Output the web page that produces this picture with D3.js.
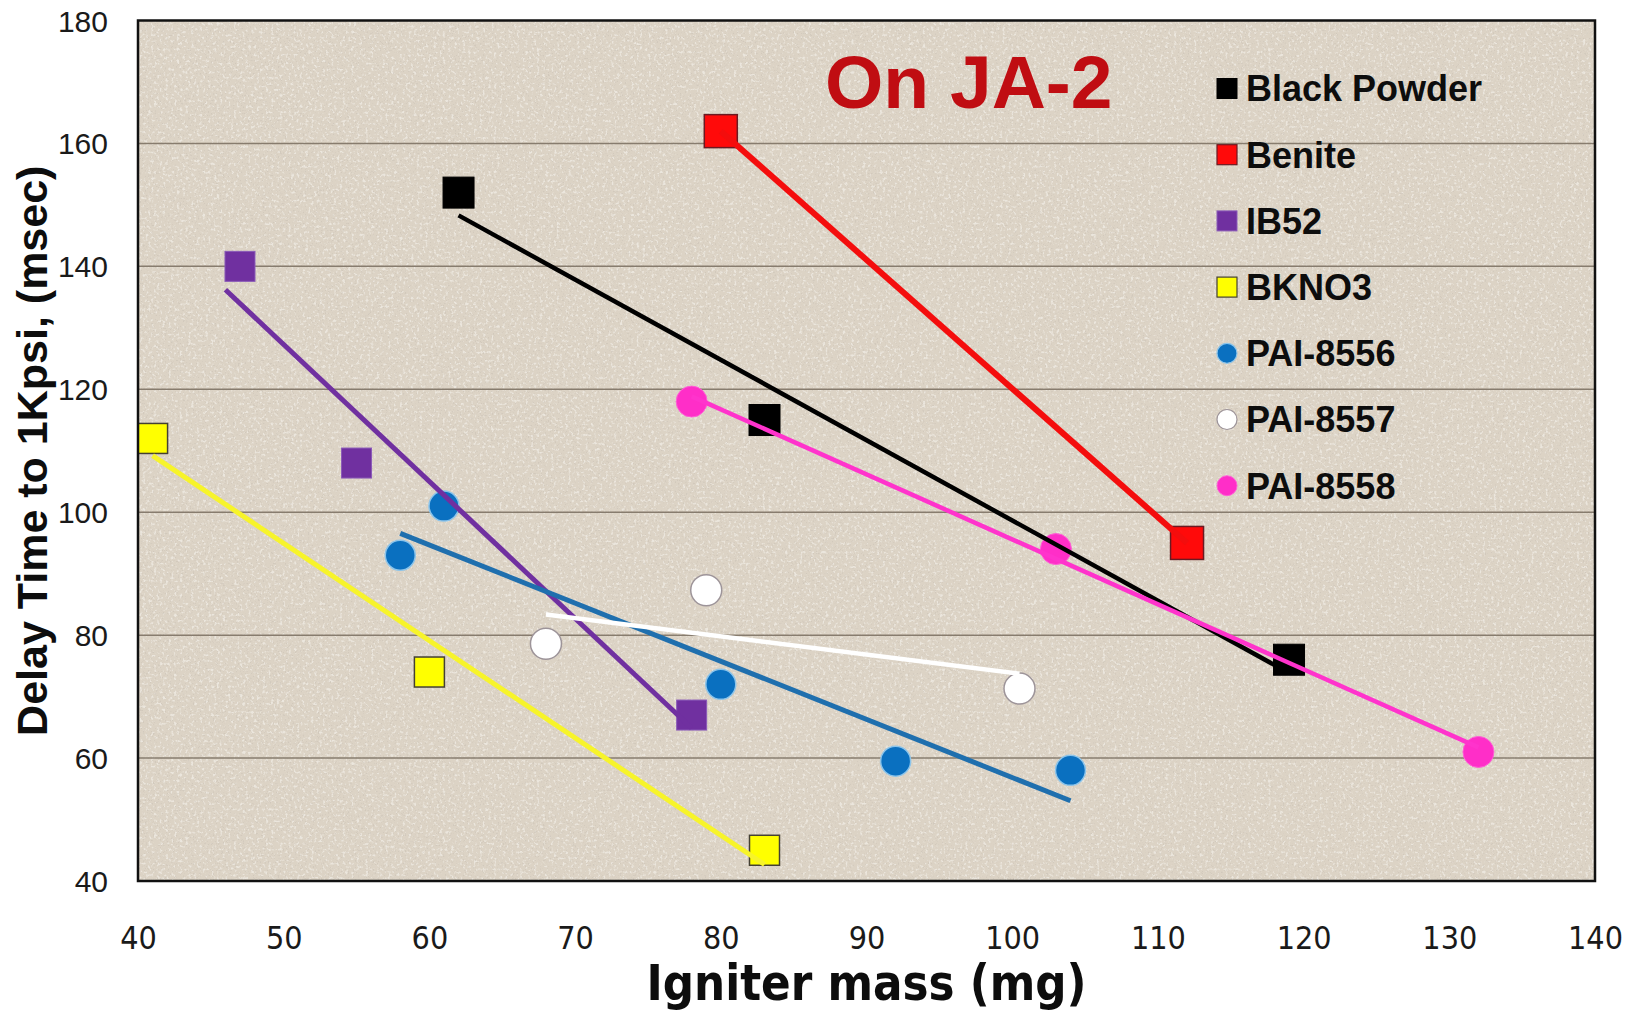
<!DOCTYPE html>
<html>
<head>
<meta charset="utf-8">
<script src="https://cdn.jsdelivr.net/npm/d3@7"></script>
<style>
  html, body { margin: 0; padding: 0; background: #ffffff; }
  svg { display: block; }
</style>
</head>
<body>
<svg id="chart" width="1637" height="1014"></svg>
<script>
// Igniter mass vs. delay time to 1 Kpsi, measured on JA-2 propellant
const xTicks = [40, 50, 60, 70, 80, 90, 100, 110, 120, 130, 140];
const yTicks = [40, 60, 80, 100, 120, 140, 160, 180];

const seriesNames = ["Black Powder", "Benite", "IB52", "BKNO3", "PAI-8556", "PAI-8557", "PAI-8558"];

const blackPowderMass = [62, 83, 119];
const blackPowderDelay = [152, 115, 76];

const beniteMass = [80, 112];
const beniteDelay = [162, 95];

const ib52Mass = [47, 55, 78];
const ib52Delay = [140, 108, 67];

const bkno3Mass = [41, 60, 83];
const bkno3Delay = [112, 74, 45];

const pai8556Mass = [58, 61, 80, 92, 104];
const pai8556Delay = [93, 101, 72, 59.5, 58];

const pai8557Mass = [68, 79, 100.5];
const pai8557Delay = [78.6, 87.3, 71.3];

const pai8558Mass = [78, 103, 132];
const pai8558Delay = [118, 94, 61];

// trendline backward forecast (in mg) per series
const trendBackcast = [0, 0, 1, 0, 0, 0, 0];

const masses = [blackPowderMass, beniteMass, ib52Mass, bkno3Mass, pai8556Mass, pai8557Mass, pai8558Mass];
const delays = [blackPowderDelay, beniteDelay, ib52Delay, bkno3Delay, pai8556Delay, pai8557Delay, pai8558Delay];

// marker and trendline styling
const styles = [
  { shape: "square", size: 31, fill: "#000000", stroke: "#000000", sw: 1, line: "#000000", lw: 4.5 },
  { shape: "square", size: 33, fill: "#ff0a0a", stroke: "#6b1a22", sw: 1.5, line: "#f40d0d", lw: 6 },
  { shape: "square", size: 30, fill: "#7030a0", stroke: "#8a5ab8", sw: 1, line: "#7030a0", lw: 5 },
  { shape: "square", size: 30, fill: "#ffff00", stroke: "#444033", sw: 1.5, line: "#f7f42a", lw: 5 },
  { shape: "circle", size: 30, fill: "#0a70c0", stroke: "#8cc4ea", sw: 1.5, line: "#1f6fae", lw: 5 },
  { shape: "circle", size: 31, fill: "#ffffff", stroke: "#9d9499", sw: 1.5, line: "#ffffff", lw: 4.5 },
  { shape: "circle", size: 31, fill: "#ff2ec8", stroke: "#ff5fd6", sw: 1, line: "#ff33cc", lw: 4.5 }
];

const series = seriesNames.map((name, i) => ({
  name,
  points: masses[i].map((m, j) => ({ x: m, y: delays[i][j] })),
  style: styles[i],
  backcast: trendBackcast[i]
}));

const svg = d3.select("#chart");
const plot = { left: 138, right: 1595, top: 20.5, bottom: 881 };

const x = d3.scaleLinear().domain([40, 140]).range([plot.left, plot.right]);
const y = d3.scaleLinear().domain([40, 180]).range([plot.bottom, plot.top]);

// speckled stone background
const defs = svg.append("defs");
const speck = defs.append("filter").attr("id", "speck")
  .attr("x", 0).attr("y", 0).attr("width", "100%").attr("height", "100%");
speck.append("feTurbulence").attr("type", "fractalNoise")
  .attr("baseFrequency", 0.6).attr("numOctaves", 2).attr("seed", 7).attr("result", "noise");
speck.append("feColorMatrix").attr("in", "noise").attr("type", "matrix")
  .attr("values", "0 0 0 0 0.55  0 0 0 0 0.50  0 0 0 0 0.44  7 0 0 0 -4.2");
const speck2 = defs.append("filter").attr("id", "speckLight")
  .attr("x", 0).attr("y", 0).attr("width", "100%").attr("height", "100%");
speck2.append("feTurbulence").attr("type", "fractalNoise")
  .attr("baseFrequency", 0.35).attr("numOctaves", 2).attr("seed", 3).attr("result", "noise");
speck2.append("feColorMatrix").attr("in", "noise").attr("type", "matrix")
  .attr("values", "0 0 0 0 0.96  0 0 0 0 0.95  0 0 0 0 0.92  5 0 0 0 -2.7");

defs.append("clipPath").attr("id", "plotClip").append("rect")
  .attr("x", plot.left).attr("y", plot.top)
  .attr("width", plot.right - plot.left).attr("height", plot.bottom - plot.top);

svg.append("rect")
  .attr("x", plot.left).attr("y", plot.top)
  .attr("width", plot.right - plot.left).attr("height", plot.bottom - plot.top)
  .attr("fill", "#dcd3c5");
svg.append("rect")
  .attr("x", plot.left).attr("y", plot.top)
  .attr("width", plot.right - plot.left).attr("height", plot.bottom - plot.top)
  .attr("filter", "url(#speckLight)").attr("opacity", 0.5);
svg.append("rect")
  .attr("x", plot.left).attr("y", plot.top)
  .attr("width", plot.right - plot.left).attr("height", plot.bottom - plot.top)
  .attr("filter", "url(#speck)").attr("opacity", 0.4);

// horizontal gridlines
svg.append("g")
  .selectAll("line")
  .data(yTicks.filter(t => t > 40 && t < 180))
  .join("line")
  .attr("x1", plot.left).attr("x2", plot.right)
  .attr("y1", d => y(d)).attr("y2", d => y(d))
  .attr("stroke", "#877c6e").attr("stroke-width", 1.5);

// axes (labels only)
const yAxis = svg.append("g")
  .attr("transform", `translate(${plot.left},0)`)
  .call(d3.axisLeft(y).tickValues(yTicks).tickSize(0).tickPadding(30));
yAxis.select(".domain").remove();
yAxis.selectAll("text")
  .attr("font-family", "'Liberation Sans', Arial, sans-serif")
  .attr("font-size", 30).attr("fill", "#1a1a1a").attr("dy", "0.35em");

const xAxis = svg.append("g")
  .attr("transform", `translate(0,${plot.bottom})`)
  .call(d3.axisBottom(x).tickValues(xTicks).tickSize(0).tickPadding(0));
xAxis.select(".domain").remove();
xAxis.selectAll("text")
  .attr("font-family", "'Liberation Sans Narrow', 'DejaVu Sans Condensed', sans-serif")
  .attr("font-size", 32).attr("fill", "#1a1a1a")
  .attr("y", 57).attr("dy", "0.35em");

// markers
const markerLayer = svg.append("g").attr("clip-path", "url(#plotClip)");
function drawMarker(g, s, cx, cy, size) {
  if (s.shape === "square") {
    g.append("rect")
      .attr("x", cx - size / 2).attr("y", cy - size / 2)
      .attr("width", size).attr("height", size)
      .attr("fill", s.fill).attr("stroke", s.stroke).attr("stroke-width", s.sw);
  } else {
    g.append("circle")
      .attr("cx", cx).attr("cy", cy).attr("r", size / 2)
      .attr("fill", s.fill).attr("stroke", s.stroke).attr("stroke-width", s.sw);
  }
}
series.forEach(sr => {
  sr.points.forEach(p => drawMarker(markerLayer, sr.style, x(p.x), y(p.y), sr.style.size));
});

// linear least-squares trendlines, drawn above the markers
function fit(points) {
  const mx = d3.mean(points, p => p.x), my = d3.mean(points, p => p.y);
  const sxy = d3.sum(points, p => (p.x - mx) * (p.y - my));
  const sxx = d3.sum(points, p => (p.x - mx) ** 2);
  const slope = sxy / sxx;
  return v => my + slope * (v - mx);
}
const lineGen = d3.line().x(d => x(d[0])).y(d => y(d[1]));
const trendLayer = svg.append("g").attr("clip-path", "url(#plotClip)");
series.forEach(sr => {
  const f = fit(sr.points);
  const [x0, x1] = d3.extent(sr.points, p => p.x);
  const start = x0 - sr.backcast;
  trendLayer.append("path")
    .attr("d", lineGen([[start, f(start)], [x1, f(x1)]]))
    .attr("fill", "none")
    .attr("stroke", sr.style.line)
    .attr("stroke-width", sr.style.lw)
    .attr("stroke-linecap", "butt");
});

// plot frame
svg.append("rect")
  .attr("x", plot.left).attr("y", plot.top)
  .attr("width", plot.right - plot.left).attr("height", plot.bottom - plot.top)
  .attr("fill", "none").attr("stroke", "#111111").attr("stroke-width", 2.5);

// chart caption inside plot
svg.append("text")
  .attr("x", 825).attr("y", 108)
  .attr("font-family", "'Liberation Sans', Arial, sans-serif")
  .attr("font-weight", "bold").attr("font-size", 75)
  .attr("fill", "#c00d12")
  .text("On JA-2");

// legend
const legend = svg.append("g");
series.forEach((sr, i) => {
  const cy = 88.5 + i * 66.2;
  const s = sr.style;
  drawMarker(legend, Object.assign({}, s, { sw: Math.min(s.sw, 1.2) }), 1227, cy, 20);
  legend.append("text")
    .attr("x", 1246).attr("y", cy).attr("dy", "0.36em")
    .attr("font-family", "'Liberation Sans', Arial, sans-serif")
    .attr("font-weight", "bold").attr("font-size", 36)
    .attr("fill", "#0d0d0d")
    .text(sr.name);
});

// axis titles
svg.append("text")
  .attr("x", (plot.left + plot.right) / 2).attr("y", 1000)
  .attr("text-anchor", "middle")
  .attr("font-family", "'Liberation Sans Narrow', 'DejaVu Sans Condensed', sans-serif")
  .attr("font-weight", "bold").attr("font-size", 50)
  .attr("textLength", 440).attr("lengthAdjust", "spacingAndGlyphs")
  .attr("fill", "#0d0d0d")
  .text("Igniter mass (mg)");

svg.append("text")
  .attr("transform", `translate(47,${(plot.top + plot.bottom) / 2}) rotate(-90)`)
  .attr("text-anchor", "middle")
  .attr("font-family", "'Liberation Sans', Arial, sans-serif")
  .attr("font-weight", "bold").attr("font-size", 43)
  .attr("fill", "#0d0d0d")
  .text("Delay Time to 1Kpsi, (msec)");
</script>
</body>
</html>
